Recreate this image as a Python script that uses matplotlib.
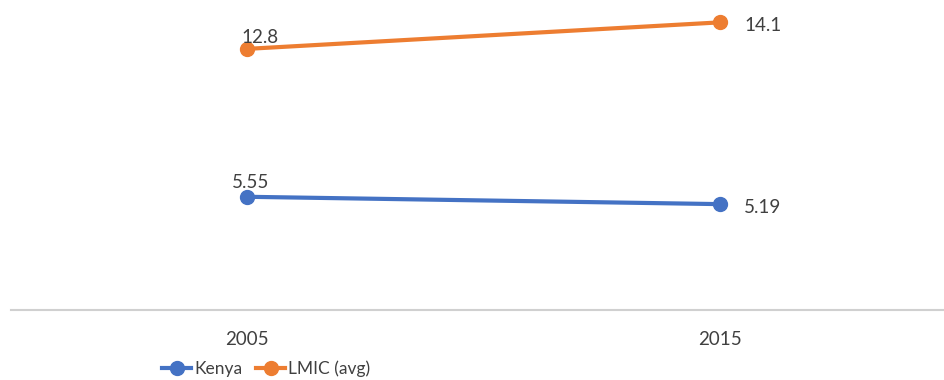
import matplotlib
matplotlib.use("Agg")
import matplotlib.pyplot as plt
from matplotlib.lines import Line2D

plt.rcParams['font.family'] = ['Lato', 'DejaVu Sans']

categories = ["2005", "2015"]
kenya = [5.55, 5.19]
lmic = [12.8, 14.1]
series_names = ["Kenya", "LMIC (avg)"]
colors = ["#4472C4", "#ED7D31"]
text_color = "#404040"

fig = plt.figure(figsize=(9.44, 3.8), dpi=100)
W, H = 944, 380
ax = fig.add_axes([10.5 / W, 70 / H, 946 / W, 306 / H])
x = list(range(len(categories)))

for vals, c, name in zip([kenya, lmic], colors, series_names):
    ax.plot(x, vals, color=c, lw=3, marker="o", ms=10, solid_capstyle="round", label=name)

ax.set_xlim(-0.5, 1.5)
ax.set_ylim(0, 15)
for s in ["top", "right", "left"]:
    ax.spines[s].set_visible(False)
ax.spines["bottom"].set_color("#D0D0D0")
ax.spines["bottom"].set_linewidth(1.5)
ax.set_yticks([])
ax.set_xticks(x)
ax.set_xticklabels(categories, fontsize=13.5, color=text_color)
ax.tick_params(axis="x", length=0, pad=15)

# data labels: first point above, last point right
first_off = {id(kenya): (4, 6), id(lmic): (13, 3)}
for vals in [kenya, lmic]:
    ax.annotate(f"{vals[0]:g}", (x[0], vals[0]), xytext=first_off[id(vals)],
                textcoords="offset pixels", ha="center", va="bottom",
                fontsize=13.5, color=text_color)
    ax.annotate(f"{vals[1]:g}", (x[1], vals[1]), xytext=(24, -3),
                textcoords="offset pixels", ha="left", va="center",
                fontsize=13.5, color=text_color)

handles = [Line2D([0], [0], color=c, lw=3, marker="o", ms=10) for c in colors]
fig.legend(handles, series_names, loc="center", bbox_to_anchor=(266 / W, 1 - 369 / H),
           ncol=2, frameon=False, fontsize=12.5, labelcolor=text_color,
           handlelength=1.7, handletextpad=0.15, columnspacing=0.8)

fig.savefig("out.png", dpi=100)
